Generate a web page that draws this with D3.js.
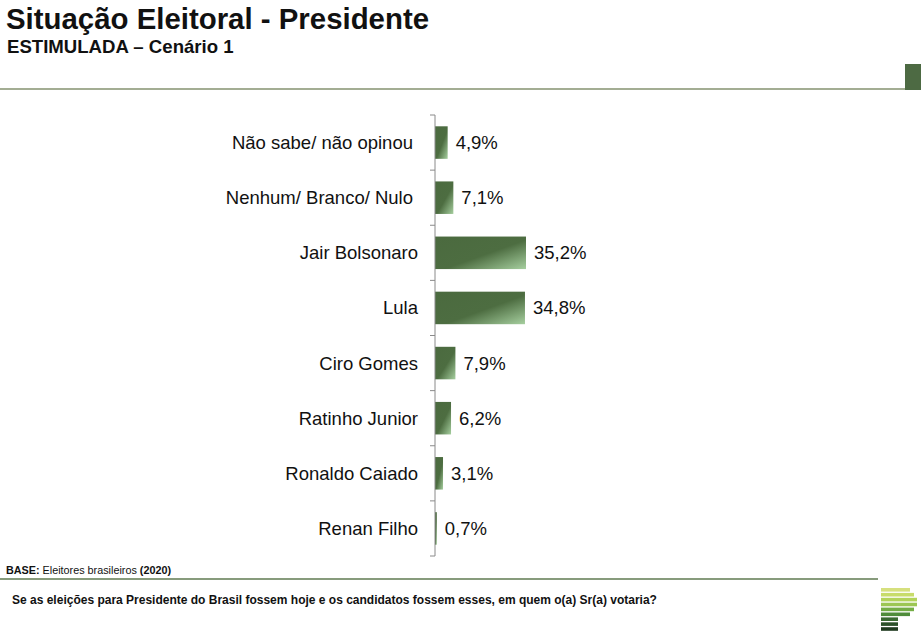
<!DOCTYPE html>
<html>
<head>
<meta charset="utf-8">
<script src="https://cdn.jsdelivr.net/npm/d3@7"></script>
<style>
  body { margin: 0; background: #fff; }
  svg { display: block; font-family: "Liberation Sans", Arial, sans-serif; }
</style>
</head>
<body>
<svg></svg>
<script>
let categories = ['Não sabe/ não opinou', 'Nenhum/ Branco/ Nulo', 'Jair Bolsonaro', 'Lula',
                  'Ciro Gomes', 'Ratinho Junior', 'Ronaldo Caiado', 'Renan Filho']
let values = [4.9, 7.1, 35.2, 34.8, 7.9, 6.2, 3.1, 0.7]
let valueLabels = ['4,9%', '7,1%', '35,2%', '34,8%', '7,9%', '6,2%', '3,1%', '0,7%']

let width = 921
let height = 638

let svg = d3.select('svg')
    .attr('width', width)
    .attr('height', height)

// gradient on the bars: dark green, lighter toward the bottom-right corner
let defs = svg.append('defs')
let grad = defs.append('linearGradient')
    .attr('id', 'barGrad')
    .attr('x1', 0).attr('y1', 0)
    .attr('x2', 1).attr('y2', 1)
grad.append('stop').attr('offset', '0%').attr('stop-color', '#4b6a3f')
grad.append('stop').attr('offset', '55%').attr('stop-color', '#4d6d41')
grad.append('stop').attr('offset', '100%').attr('stop-color', '#a6cf9f')

// header
svg.append('text')
    .attr('x', 6).attr('y', 29)
    .attr('font-size', 29.4).attr('font-weight', 'bold')
    .attr('fill', '#111')
    .text('Situação Eleitoral - Presidente')
svg.append('text')
    .attr('x', 7).attr('y', 53)
    .attr('font-size', 18.6).attr('font-weight', 'bold')
    .attr('fill', '#111')
    .text('ESTIMULADA – Cenário 1')
svg.append('line')
    .attr('x1', 0).attr('x2', 906)
    .attr('y1', 89).attr('y2', 89)
    .attr('stroke', '#a3ad93').attr('stroke-width', 2)
svg.append('rect')
    .attr('x', 905).attr('y', 64)
    .attr('width', 16).attr('height', 26)
    .attr('fill', '#4d6a43')

// scales
let yscale = d3.scaleBand()
    .domain(categories)
    .range([115, 556])
    .paddingInner(0.41)
    .paddingOuter(0.205)

let xscale = d3.scaleLinear()
    .domain([0, 35.2])
    .range([435, 526])

// bars
svg.selectAll('.bar')
    .data(values)
    .enter()
    .append('rect')
    .attr('class', 'bar')
    .attr('x', xscale(0))
    .attr('y', (d, i) => yscale(categories[i]))
    .attr('width', (d) => xscale(d) - xscale(0))
    .attr('height', yscale.bandwidth())
    .attr('fill', 'url(#barGrad)')

// axis with ticks between categories
let axisG = svg.append('g').attr('id', 'y-axis')
axisG.append('line')
    .attr('x1', 435).attr('x2', 435)
    .attr('y1', 115).attr('y2', 556)
    .attr('stroke', '#8a8a8a').attr('stroke-width', 1)
let tickYs = d3.range(categories.length + 1).map((i) => 115 + i * yscale.step())
axisG.selectAll('.tick')
    .data(tickYs)
    .enter()
    .append('line')
    .attr('x1', 430).attr('x2', 435)
    .attr('y1', (d) => d).attr('y2', (d) => d)
    .attr('stroke', '#8a8a8a')

// category labels
svg.selectAll('.cat')
    .data(categories)
    .enter()
    .append('text')
    .attr('class', 'cat')
    .attr('x', (d, i) => i < 2 ? 413 : 418)
    .attr('y', (d) => yscale(d) + yscale.bandwidth() / 2)
    .attr('dy', '0.35em')
    .attr('text-anchor', 'end')
    .attr('font-size', 18.5)
    .attr('fill', '#111')
    .text((d) => d)

// value labels
svg.selectAll('.val')
    .data(values)
    .enter()
    .append('text')
    .attr('class', 'val')
    .attr('x', (d) => xscale(d) + 8)
    .attr('y', (d, i) => yscale(categories[i]) + yscale.bandwidth() / 2)
    .attr('dy', '0.35em')
    .attr('font-size', 18.5)
    .attr('fill', '#111')
    .text((d, i) => valueLabels[i])

// footer
let base = svg.append('text')
    .attr('x', 6).attr('y', 574)
    .attr('font-size', 10.8)
    .attr('fill', '#111')
base.append('tspan').attr('font-weight', 'bold').text('BASE:')
base.append('tspan').text(' Eleitores brasileiros ')
base.append('tspan').attr('font-weight', 'bold').text('(2020)')

svg.append('line')
    .attr('x1', 0).attr('x2', 878)
    .attr('y1', 579).attr('y2', 579)
    .attr('stroke', '#5f7a50').attr('stroke-width', 1.5)

svg.append('text')
    .attr('x', 12).attr('y', 604)
    .attr('font-size', 12).attr('font-weight', 'bold')
    .attr('fill', '#111')
    .text('Se as eleições para Presidente do Brasil fossem hoje e os candidatos fossem esses, em quem o(a) Sr(a) votaria?')

// logo stripes
let logoWidths = [29, 33, 36, 36, 33, 29, 17, 17, 17]
let logoColors = ['#d6e07e', '#c8dc6a', '#b3d35a', '#9cc653', '#74ad45', '#4f8c3a', '#3a6a32', '#2b5029', '#1f3a1f']
svg.append('g').selectAll('rect')
    .data(logoWidths)
    .enter()
    .append('rect')
    .attr('x', 881)
    .attr('y', (d, i) => 588 + i * 4.9)
    .attr('width', (d) => d)
    .attr('height', 3.6)
    .attr('fill', (d, i) => logoColors[i])
</script>
</body>
</html>
